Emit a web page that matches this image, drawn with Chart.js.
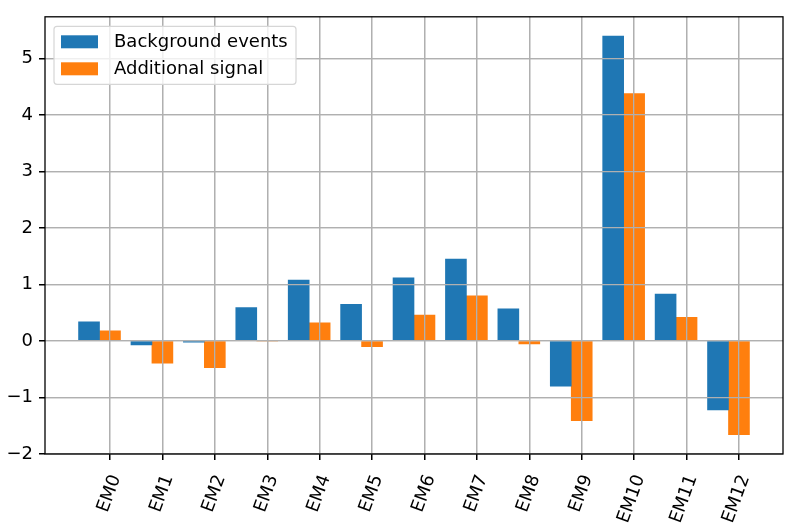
<!DOCTYPE html>
<html>
<head>
<meta charset="utf-8">
<script src="https://cdn.jsdelivr.net/npm/chart.js@4.4.0/dist/chart.umd.min.js"></script>
<style>
  html, body { margin: 0; padding: 0; background: #fff; }
  #wrap { width: 789px; height: 526px; }
</style>
</head>
<body>
<div id="wrap"><canvas id="myChart"></canvas></div>
<script>
var categories = ['EM0', 'EM1', 'EM2', 'EM3', 'EM4', 'EM5', 'EM6', 'EM7', 'EM8', 'EM9', 'EM10', 'EM11', 'EM12'];
var backgroundEvents = [0.34, -0.07, -0.02, 0.59, 1.08, 0.65, 1.12, 1.45, 0.57, -0.80, 5.40, 0.83, -1.22];
var additionalSignal = [0.18, -0.39, -0.47, 0.00, 0.32, -0.10, 0.46, 0.80, -0.05, -1.41, 4.38, 0.42, -1.66];
var yTicks = [-2, -1, 0, 1, 2, 3, 4, 5];
var seriesNames = ['Background events', 'Additional signal'];

var FONT = "'DejaVu Sans', sans-serif";

// blue bar sits 0.4 left of the tick, orange bar on the tick
var bgPoints = categories.map(function (c, i) { return { x: i - 0.4, y: backgroundEvents[i] }; });
var sigPoints = categories.map(function (c, i) { return { x: i, y: additionalSignal[i] }; });

var ctx = document.getElementById('myChart').getContext('2d');

var overlay = {
  id: 'overlay',
  afterDatasetsDraw: function (chart) {
    // matplotlib draws the grid above the bars
    chart.scales.x.drawGrid(chart.chartArea);
    chart.scales.y.drawGrid(chart.chartArea);
    var a = chart.chartArea;
    var c = chart.ctx;
    c.save();
    c.strokeStyle = '#000';
    c.lineWidth = 1.3;
    c.strokeRect(a.left, a.top, a.right - a.left, a.bottom - a.top);
    c.restore();
  },
  afterDraw: function (chart) {
    var a = chart.chartArea;
    var c = chart.ctx;
    var x0 = a.left + 9, y0 = a.top + 9.5, w = 242, h = 58;
    c.save();
    c.beginPath();
    c.roundRect(x0, y0, w, h, 3);
    c.fillStyle = 'rgba(255,255,255,0.8)';
    c.fill();
    c.strokeStyle = '#d6d6d6';
    c.lineWidth = 1.2;
    c.stroke();
    c.font = '18px ' + FONT;
    c.textBaseline = 'middle';
    chart.data.datasets.forEach(function (ds, i) {
      var rowY = y0 + 15.5 + i * 27;
      c.fillStyle = ds.backgroundColor;
      c.fillRect(x0 + 7, rowY - 6.5, 37, 13);
      c.fillStyle = '#000';
      c.fillText(ds.label, x0 + 60, rowY + 1);
    });
    c.restore();
  }
};

new Chart(ctx, {
  type: 'bar',
  data: {
    datasets: [{
        label: seriesNames[0],
        data: bgPoints,
        backgroundColor: '#1f77b4',
        grouped: false,
        categoryPercentage: 1,
        barPercentage: 1
      },
      {
        label: seriesNames[1],
        data: sigPoints,
        backgroundColor: '#ff7f0e',
        grouped: false,
        categoryPercentage: 1,
        barPercentage: 1
      }
    ]
  },
  options: {
    responsive: true,
    maintainAspectRatio: false,
    animation: false,
    layout: {
      padding: { top: 6, right: 6, left: 0, bottom: 0 }
    },
    plugins: {
      legend: { display: false },
      tooltip: { enabled: false }
    },
    scales: {
      x: {
        type: 'linear',
        offset: false,
        min: -1.24,
        max: 12.84,
        afterBuildTicks: function (scale) {
          scale.ticks = categories.map(function (c, i) { return { value: i }; });
        },
        afterFit: function (scale) { scale.height = 72; },
        border: { display: false },
        grid: {
          offset: false,
          color: '#b0b0b0',
          lineWidth: 1.3,
          tickColor: '#000',
          tickWidth: 1.3,
          tickLength: 6
        },
        ticks: {
          autoSkip: false,
          minRotation: 70,
          maxRotation: 70,
          padding: 12,
          labelOffset: 6,
          color: '#000',
          font: { size: 18, family: FONT },
          callback: function (v) { return categories[v]; }
        }
      },
      y: {
        min: -2.0,
        max: 5.74,
        afterBuildTicks: function (scale) {
          scale.ticks = yTicks.map(function (v) { return { value: v }; });
        },
        afterFit: function (scale) { scale.width = 45; },
        border: { display: false },
        grid: {
          color: '#b0b0b0',
          lineWidth: 1.3,
          tickColor: '#000',
          tickWidth: 1.3,
          tickLength: 6
        },
        ticks: {
          padding: 6,
          color: '#000',
          font: { size: 18, family: FONT },
          callback: function (v) { return v < 0 ? '\u2212' + Math.abs(v) : String(v); }
        }
      }
    }
  },
  plugins: [overlay]
});
</script>
</body>
</html>
